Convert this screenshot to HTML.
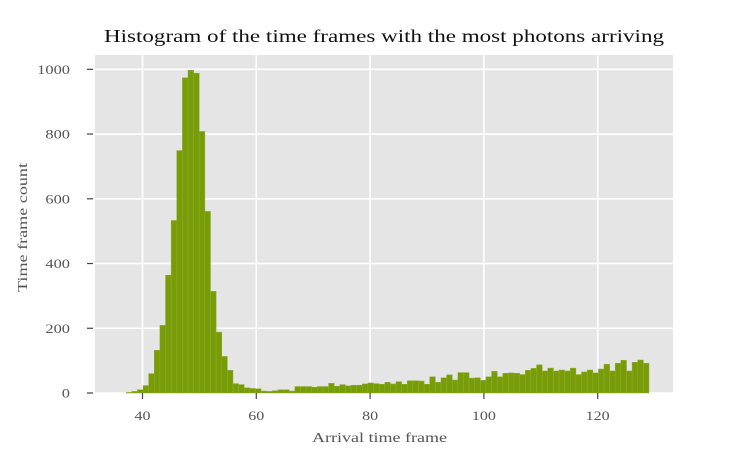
<!DOCTYPE html>
<html><head><meta charset="utf-8"><style>
body{margin:0;background:#fff;}
svg{display:block;font-family:"Liberation Serif",serif;}
</style></head><body>
<svg id="chart" width="750" height="450" viewBox="0 0 750 450" xmlns="http://www.w3.org/2000/svg">
<text x="104" y="42" font-size="18" textLength="560" lengthAdjust="spacingAndGlyphs" fill="#111">Histogram of the time frames with the most photons arriving</text>
<rect x="95" y="55" width="578" height="338" fill="#e5e5e5"/>
<g id="grid"></g>
<g id="bars"></g>
<g id="axes"></g>
<text x="312" y="442" font-size="13.5" textLength="135" lengthAdjust="spacingAndGlyphs" fill="#555">Arrival time frame</text>
<text transform="translate(27,292) rotate(-90)" font-size="13.5" textLength="129" lengthAdjust="spacingAndGlyphs" fill="#555">Time frame count</text>
</svg>
<script>
const binStart = 37.13;
const binWidth = 0.988;
const counts = [2,5,10,23,60,132,209,364,533,749,974,997,988,808,561,314,188,113,70,29,26,16,14,13,6,5,7,10,10,6,20,20,20,18,20,20,30,21,26,22,24,24,28,31,29,27,33,28,35,27,38,38,37,27,50,33,47,56,40,63,63,46,47,39,50,67,50,61,62,61,57,70,76,87,68,77,68,71,68,77,57,65,71,62,74,89,68,92,101,68,95,102,92];
const xTicks = [40,60,80,100,120];
const yTicks = [0,200,400,600,800,1000];
const NS="http://www.w3.org/2000/svg";
function xs(v){return 142.5+(v-40)*5.69;}
function ys(v){return 393-v*0.3237;}
function mk(tag,attrs,parent){const e=document.createElementNS(NS,tag);for(const k in attrs)e.setAttribute(k,attrs[k]);parent.appendChild(e);return e;}
const grid=document.getElementById('grid'),bars=document.getElementById('bars'),axes=document.getElementById('axes');
xTicks.forEach(t=>{
  const l=mk('line',{x1:xs(t),x2:xs(t),y1:55,y2:393,stroke:'#fff','stroke-width':1.6},grid);
  
  
  const tk=mk('line',{x1:xs(t),x2:xs(t),y1:393,y2:399,stroke:'#444','stroke-width':1.2},axes);
  
  
  const s=String(t);
  const tx=mk('text',{x:xs(t),y:420,'font-size':13,'text-anchor':'middle',fill:'#555',textLength:s.length*8,lengthAdjust:'spacingAndGlyphs'},axes);
  tx.textContent=s;
  
  
});
yTicks.forEach(t=>{
  const l=mk('line',{x1:95,x2:673,y1:ys(t),y2:ys(t),stroke:'#fff','stroke-width':1.6},grid);
  
  
  const tk=mk('line',{x1:87,x2:93,y1:ys(t),y2:ys(t),stroke:'#444','stroke-width':1.2},axes);
  
  
  const s=String(t);
  const tx=mk('text',{x:70,y:ys(t)+4.5,'font-size':13,'text-anchor':'end',fill:'#555',textLength:s.length*8.2,lengthAdjust:'spacingAndGlyphs'},axes);
  tx.textContent=s;
  
  
});
counts.forEach((c,i)=>{
  const x0=xs(binStart+i*binWidth),x1=xs(binStart+(i+1)*binWidth);
  const r=mk('rect',{x:x0,y:ys(c),width:x1-x0,height:393-ys(c),fill:'#779c07',stroke:'#8fae2e','stroke-width':0.5},bars);
  
  
});
</script>
</body></html>
